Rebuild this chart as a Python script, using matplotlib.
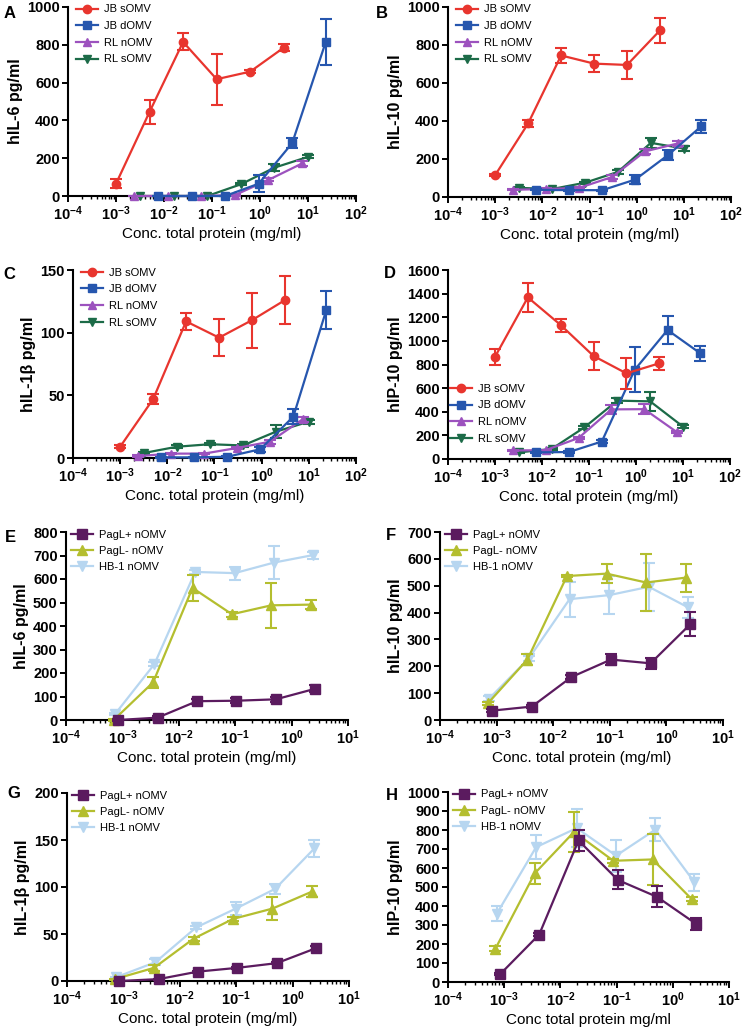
import numpy as np
import matplotlib
matplotlib.use("Agg")
import matplotlib.pyplot as plt
from matplotlib.ticker import FixedLocator, LogLocator, NullFormatter

plt.rcParams['font.family'] = ['Liberation Sans', 'DejaVu Sans']
plt.rcParams['mathtext.fontset'] = 'custom'
plt.rcParams['mathtext.rm'] = 'Liberation Sans'
plt.rcParams['mathtext.bf'] = 'Liberation Sans:bold'

# concentrations (mg/ml), panels A-D
jb_s_x = [0.001, 0.005, 0.025, 0.125, 0.625, 3.125]
jb_d_x = [0.0075, 0.0375, 0.1875, 0.9375, 4.6875, 23.44]
rl_n_x = [0.0024, 0.012, 0.06, 0.3, 1.5, 7.5]
rl_s_x = [0.0032, 0.016, 0.08, 0.4, 2.0, 10.0]

# concentrations, panels E-H
pag_p_x = [0.00084, 0.0042, 0.021, 0.105, 0.525, 2.625]
pag_m_x = [0.0007, 0.0035, 0.0175, 0.0875, 0.4375, 2.1875]
hb1_x = [0.00074, 0.0037, 0.0195, 0.098, 0.49, 2.43]

# panel A  hIL-6
a_jb_s = [65, 445, 815, 618, 658, 785]
a_jb_s_err = [25, 65, 45, 135, 8, 20]
a_jb_d = [0, 0, 0, 65, 280, 815]
a_jb_d_err = [0, 0, 0, 45, 25, 120]
a_rl_n = [0, 0, 0, 5, 85, 172]
a_rl_n_err = [0, 0, 0, 3, 8, 15]
a_rl_s = [0, 0, 0, 62, 150, 207]
a_rl_s_err = [0, 0, 0, 5, 20, 8]

# panel B  hIL-10
b_jb_s = [115, 387, 745, 702, 695, 877]
b_jb_s_err = [5, 20, 40, 45, 72, 65]
b_jb_d = [38, 36, 36, 92, 222, 372]
b_jb_d_err = [3, 3, 3, 22, 28, 35]
b_rl_n = [38, 42, 48, 105, 240, 282]
b_rl_n_err = [3, 3, 3, 10, 15, 15]
b_rl_s = [48, 42, 75, 132, 285, 255]
b_rl_s_err = [3, 3, 5, 10, 25, 12]

# panel C  hIL-1b
c_jb_s = [9, 47, 109, 96, 110, 126]
c_jb_s_err = [1, 4, 7, 15, 22, 19]
c_jb_d = [0.5, 0.5, 1, 7, 33, 118]
c_jb_d_err = [0.3, 0.3, 0.5, 2, 6, 15]
c_rl_n = [1.5, 3.5, 3.5, 8, 13, 31]
c_rl_n_err = [0.5, 0.5, 0.5, 1, 1.5, 2]
c_rl_s = [4, 9, 11, 10, 21, 29]
c_rl_s_err = [0.5, 1, 1, 1, 5, 1.5]

# panel D  hIP-10
d_jb_s = [865, 1368, 1134, 872, 725, 810]
d_jb_s_err = [65, 125, 55, 115, 130, 55]
d_jb_d = [56, 59, 148, 755, 1092, 894]
d_jb_d_err = [5, 5, 10, 190, 115, 65]
d_rl_n = [72, 75, 178, 420, 422, 226]
d_rl_n_err = [5, 5, 10, 35, 40, 10]
d_rl_s = [56, 85, 268, 494, 488, 274]
d_rl_s_err = [5, 5, 10, 20, 80, 10]

# panel E  hIL-6
e_pp = [0, 10, 80, 82, 88, 133]
e_pp_err = [3, 8, 10, 10, 10, 15]
e_pm = [0, 160, 562, 450, 488, 491]
e_pm_err = [5, 25, 55, 10, 95, 18]
e_hb = [25, 238, 630, 625, 670, 702]
e_hb_err = [5, 10, 10, 28, 72, 15]

# panel F  hIL-10
f_pp = [35, 50, 160, 225, 211, 356]
f_pp_err = [5, 5, 8, 20, 20, 45]
f_pm = [62, 225, 536, 545, 512, 530]
f_pm_err = [5, 20, 5, 35, 105, 52]
f_hb = [80, 229, 450, 465, 496, 419]
f_hb_err = [8, 10, 65, 72, 90, 40]

# panel G  hIL-1b
g_pp = [0, 2, 10, 14, 19, 35]
g_pp_err = [0.5, 0.5, 1, 1, 1, 2]
g_pm = [2, 14, 45, 66, 77, 95]
g_pm_err = [0.5, 3, 2, 2, 12, 6]
g_hb = [4, 20, 57, 77, 98, 141]
g_hb_err = [0.5, 3, 2, 7, 5, 9]

# panel H  hIP-10
h_pp = [40, 250, 745, 537, 448, 305]
h_pp_err = [5, 10, 55, 50, 55, 30]
h_pm = [176, 572, 790, 638, 645, 435]
h_pm_err = [15, 55, 105, 10, 135, 10]
h_hb = [360, 710, 810, 665, 802, 525]
h_hb_err = [40, 65, 100, 85, 60, 45]

labels_top = ['JB sOMV', 'JB dOMV', 'RL nOMV', 'RL sOMV']
colors_top = ['#E8352E', '#2656AE', '#9C52BE', '#1C6B48']
markers_top = ['o', 's', '^', 'v']
labels_bot = ['PagL+ nOMV', 'PagL- nOMV', 'HB-1 nOMV']
colors_bot = ['#5B1B5F', '#B4BE2F', '#B7D6F0']
markers_bot = ['s', '^', 'v']

W, H = 742, 1028
fig = plt.figure(figsize=(W / 100, H / 100), dpi=100)


def make_ax(l, t, r, b):
    return fig.add_axes([l / W, 1 - b / H, (r - l) / W, (b - t) / H])


def style_ax(ax, xmax_exp, ymax, ystep, ylabel, xlabel):
    ax.set_xscale('log')
    ax.set_xlim(1e-4, 10 ** xmax_exp)
    ax.set_ylim(0, ymax)
    for s in ['top', 'right']:
        ax.spines[s].set_visible(False)
    for s in ['left', 'bottom']:
        ax.spines[s].set_linewidth(1.5)
    exps = list(range(-4, xmax_exp + 1))
    ax.xaxis.set_major_locator(FixedLocator([10.0 ** e for e in exps]))
    ax.set_xticklabels([r'$\mathbf{10^{%d}}$' % e for e in exps])
    ax.xaxis.set_minor_locator(LogLocator(base=10, subs=np.arange(2, 10), numticks=20))
    ax.xaxis.set_minor_formatter(NullFormatter())
    ax.set_yticks(np.arange(0, ymax + 1, ystep))
    ax.tick_params(axis='both', which='major', direction='out', length=4, width=1.4,
                   labelsize=10.5, pad=2)
    ax.tick_params(axis='x', which='minor', direction='out', length=2.5, width=1.0)
    for lab in ax.get_yticklabels():
        lab.set_fontweight('bold')
    ax.set_ylabel(ylabel, fontsize=11.5, fontweight='bold', labelpad=3)
    ax.set_xlabel(xlabel, fontsize=11, labelpad=3)


def draw_series(ax, xs, ys, errs, color, marker, ms, label, z):
    ax.errorbar(xs, ys, yerr=errs, fmt='none', ecolor=color, elinewidth=1.5,
                capsize=4, capthick=1.5, zorder=z, clip_on=False)
    ax.plot(xs, ys, color=color, marker=marker, markersize=ms, lw=1.6,
            label=label, zorder=z, clip_on=False)


def panel_letter(x, y, s):
    fig.text(x / W, 1 - y / H, s, fontsize=12, fontweight='bold', va='center', ha='left')


xl = 'Conc. total protein (mg/ml)'

top_x = [jb_s_x, jb_d_x, rl_n_x, rl_s_x]
top_panels = [
    ((68, 7, 356, 196), 1000, 200, 'hIL-6 pg/ml', 'A', (4, 13),
     [a_jb_s, a_jb_d, a_rl_n, a_rl_s], [a_jb_s_err, a_jb_d_err, a_rl_n_err, a_rl_s_err], (0.02, 1.025)),
    ((448, 7, 731, 197), 1000, 200, 'hIL-10 pg/ml', 'B', (376, 13),
     [b_jb_s, b_jb_d, b_rl_n, b_rl_s], [b_jb_s_err, b_jb_d_err, b_rl_n_err, b_rl_s_err], (0.02, 1.025)),
    ((73, 270, 356, 458), 150, 50, 'hIL-1β pg/ml', 'C', (3, 275),
     [c_jb_s, c_jb_d, c_rl_n, c_rl_s], [c_jb_s_err, c_jb_d_err, c_rl_n_err, c_rl_s_err], (0.02, 1.025)),
    ((448, 270, 730, 459), 1600, 200, 'hIP-10 pg/ml', 'D', (384, 273),
     [d_jb_s, d_jb_d, d_rl_n, d_rl_s], [d_jb_s_err, d_jb_d_err, d_rl_n_err, d_rl_s_err], (0.0, 0.41)),
]

for box, ymax, ystep, ylab, letter, lpos, ys_list, err_list, lanchor in top_panels:
    ax = make_ax(*box)
    for i in range(4):
        draw_series(ax, top_x[i], ys_list[i], err_list[i], colors_top[i], markers_top[i],
                    6, labels_top[i], 10 - i)
    style_ax(ax, 2, ymax, ystep, ylab, xl)
    ax.legend(loc='upper left', bbox_to_anchor=lanchor, frameon=False, fontsize=8,
              handlelength=2.0, handletextpad=0.5, labelspacing=0.6, borderpad=0.2,
              borderaxespad=0)
    panel_letter(lpos[0], lpos[1], letter)

bot_x = [pag_p_x, pag_m_x, hb1_x]
bot_panels = [
    ((66, 532, 348, 720), 800, 100, 'hIL-6 pg/ml', 'E', (5, 537), xl,
     [e_pp, e_pm, e_hb], [e_pp_err, e_pm_err, e_hb_err]),
    ((440, 532, 723, 720), 700, 100, 'hIL-10 pg/ml', 'F', (386, 535), xl,
     [f_pp, f_pm, f_hb], [f_pp_err, f_pm_err, f_hb_err]),
    ((67, 793, 349, 981), 200, 50, 'hIL-1β pg/ml', 'G', (7, 794), xl,
     [g_pp, g_pm, g_hb], [g_pp_err, g_pm_err, g_hb_err]),
    ((448, 792, 729, 982), 1000, 100, 'hIP-10 pg/ml', 'H', (386, 795), 'Conc total protein mg/ml',
     [h_pp, h_pm, h_hb], [h_pp_err, h_pm_err, h_hb_err]),
]

for box, ymax, ystep, ylab, letter, lpos, xlab, ys_list, err_list in bot_panels:
    ax = make_ax(*box)
    sizes = [7.5, 7, 7]
    for i in range(3):
        draw_series(ax, bot_x[i], ys_list[i], err_list[i], colors_bot[i], markers_bot[i],
                    sizes[i], labels_bot[i], 10 - i)
    style_ax(ax, 1, ymax, ystep, ylab, xlab)
    ax.legend(loc='upper left', bbox_to_anchor=(0.01, 1.025), frameon=False, fontsize=8,
              handlelength=2.0, handletextpad=0.5, labelspacing=0.55, borderpad=0.2,
              borderaxespad=0)
    panel_letter(lpos[0], lpos[1], letter)

fig.savefig('out.png', dpi=100)
